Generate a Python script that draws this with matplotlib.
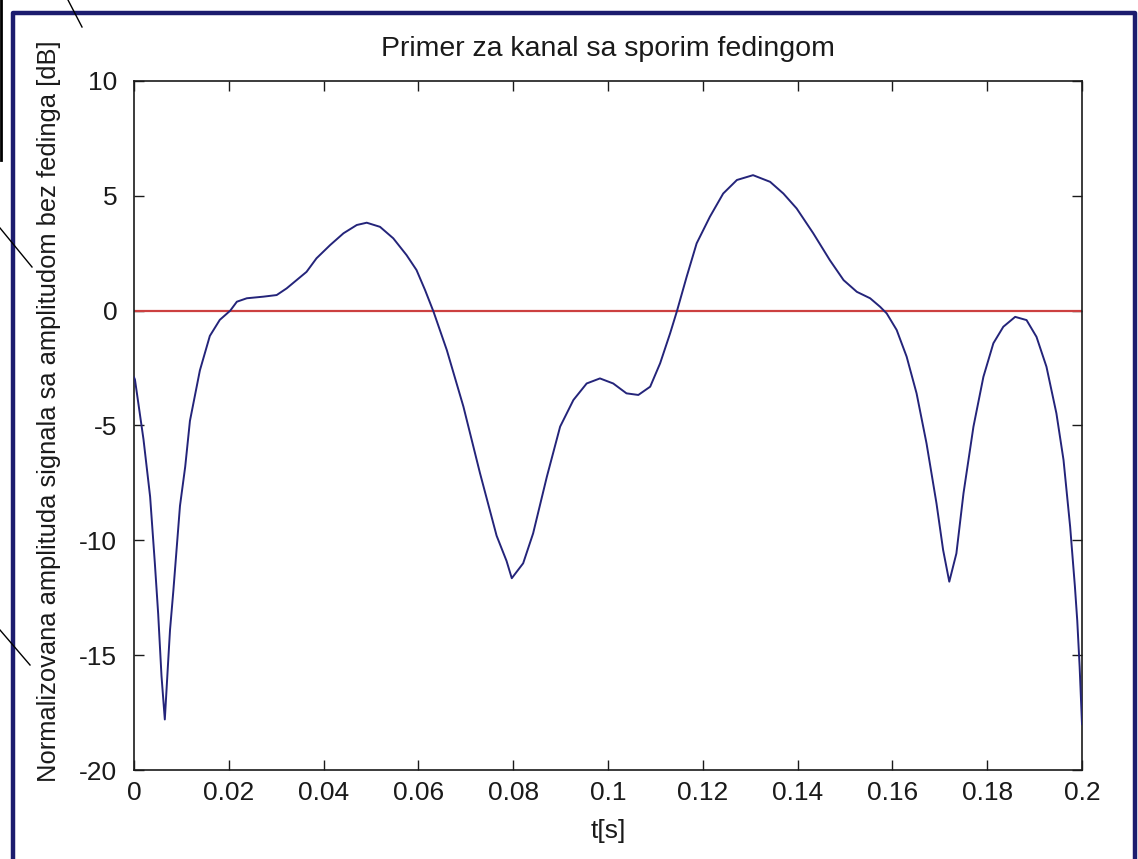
import matplotlib
matplotlib.use("Agg")
import matplotlib.pyplot as plt
from matplotlib.lines import Line2D

# --- data ---
t = [0.0, 0.0002, 0.0020, 0.0034, 0.0044, 0.0051, 0.0058, 0.0065, 0.0072,
     0.0076, 0.0083, 0.0097, 0.0108, 0.0118, 0.0139, 0.0160, 0.0181, 0.0203,
     0.0217, 0.0238, 0.0273, 0.0301, 0.0322, 0.0343, 0.0364, 0.0385, 0.0414,
     0.0442, 0.0470, 0.0491, 0.0519, 0.0547, 0.0575, 0.0596, 0.0614, 0.0632,
     0.0660, 0.0695, 0.0730, 0.0765, 0.0786, 0.0797, 0.0821, 0.0842, 0.0871,
     0.0899, 0.0927, 0.0955, 0.0983, 0.1011, 0.1039, 0.1064, 0.1089, 0.1110,
     0.1131, 0.1145, 0.1166, 0.1187, 0.1215, 0.1243, 0.1272, 0.1306, 0.1342,
     0.1370, 0.1398, 0.1433, 0.1468, 0.1497, 0.1525, 0.1553, 0.1574, 0.1588,
     0.1609, 0.1630, 0.1651, 0.1672, 0.1693, 0.1707, 0.1720, 0.1735, 0.1750,
     0.1771, 0.1792, 0.1813, 0.1834, 0.1859, 0.1883, 0.1904, 0.1925, 0.1946,
     0.1961, 0.1975, 0.1985, 0.1990, 0.1995, 0.2000]
amp = [-2.9, -3.0, -5.6, -8.1, -11.0, -13.2, -15.9, -17.8, -15.3,
       -13.9, -12.2, -8.5, -6.8, -4.8, -2.6, -1.1, -0.4, 0.0,
       0.39, 0.54, 0.61, 0.68, 0.97, 1.33, 1.69, 2.28, 2.86,
       3.37, 3.73, 3.83, 3.65, 3.15, 2.42, 1.77, 0.9, -0.05,
       -1.72, -4.18, -7.08, -9.8, -10.9, -11.65, -11.0, -9.7, -7.23,
       -5.05, -3.89, -3.17, -2.95, -3.17, -3.6, -3.67, -3.31, -2.29,
       -0.99, -0.05, 1.48, 2.93, 4.09, 5.1, 5.69, 5.9, 5.61,
       5.1, 4.45, 3.37, 2.2, 1.33, 0.82, 0.54, 0.17, -0.12,
       -0.84, -2.0, -3.6, -5.78, -8.39, -10.42, -11.8, -10.57, -7.95,
       -5.05, -2.88, -1.42, -0.7, -0.27, -0.41, -1.14, -2.44, -4.47,
       -6.5, -9.41, -12.0, -13.5, -15.5, -18.0]
ref_level = 0.0

xticks = [0, 0.02, 0.04, 0.06, 0.08, 0.1, 0.12, 0.14, 0.16, 0.18, 0.2]
xticklabels = ["0", "0.02", "0.04", "0.06", "0.08", "0.1", "0.12", "0.14",
               "0.16", "0.18", "0.2"]
yticks = [-20, -15, -10, -5, 0, 5, 10]

NAVY = "#1c1c6e"
CURVE = "#24247a"
RED = "#cc4040"
INK = "#1a1a1a"

W, H = 1138, 859
plt.rcParams.update({"font.family": "Liberation Sans", "font.size": 19,
                     "axes.unicode_minus": False})

fig = plt.figure(figsize=(W / 100, H / 100), dpi=100, facecolor="white")
ax = fig.add_axes([134 / W, 1 - 770 / H, 948 / W, 689 / H])

ax.plot(t, amp, color=CURVE, lw=1.4, zorder=3)
ax.axhline(ref_level, color=RED, lw=1.6, zorder=2)

ax.set_xlim(0, 0.2)
ax.set_ylim(-20, 10)
ax.set_xticks(xticks)
ax.set_xticklabels(xticklabels)
ax.set_yticks(yticks)
ax.tick_params(direction="in", length=7, width=1, top=True, right=True,
               colors=INK)
ax.tick_params(axis="y", pad=12)
ax.tick_params(axis="x", pad=8)
for s in ax.spines.values():
    s.set_color(INK)
    s.set_linewidth(1.2)

ax.set_title("Primer za kanal sa sporim fedingom", color=INK, pad=18,
             fontsize=20.5)
ax.set_xlabel("t[s]", color=INK, labelpad=10)
ax.set_ylabel("Normalizovana amplituda signala sa amplitudom bez fedinga [dB]",
              color=INK, fontsize=18.4)
ax.yaxis.set_label_coords(-0.077, 0.521)


def px_line(xs, ys, color, lw):
    fig.add_artist(Line2D([x / W for x in xs], [1 - y / H for y in ys],
                          transform=fig.transFigure, color=color, lw=lw))


# slide frame around the figure
px_line([13, 13, 1135, 1135], [859, 13, 13, 859], NAVY, 3.2)
# leftover pointer lines from the slide
px_line([1, 1], [0, 160], "black", 2.0)
px_line([68, 82], [0, 27], "black", 1.0)
px_line([0, 32], [228, 267], "black", 1.0)
px_line([0, 30], [630, 665], "black", 1.0)

fig.savefig("out.png", dpi=100, facecolor="white")
